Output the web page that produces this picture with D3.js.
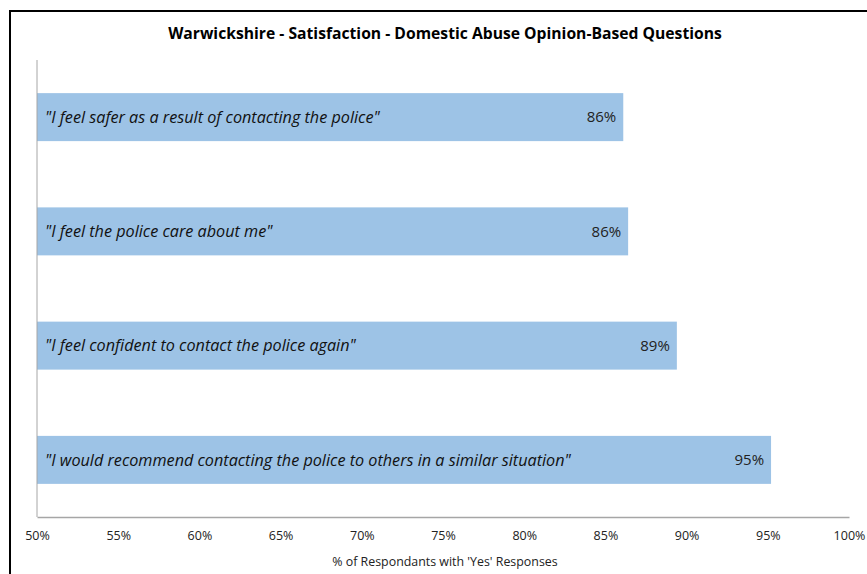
<!DOCTYPE html>
<html>
<head>
<meta charset="utf-8">
<script src="https://cdn.jsdelivr.net/npm/d3@7"></script>
<style>
  body { margin: 0; background: #fff; }
  svg { font-family: "Open Sans", "Liberation Sans", sans-serif; }
</style>
</head>
<body>
<svg width="867" height="574"></svg>
<script>
// data
var questions = [
  "\"I feel safer as a result of contacting the police\"",
  "\"I feel the police care about me\"",
  "\"I feel confident to contact the police again\"",
  "\"I would recommend contacting the police to others in a similar situation\""
];
var values = [86.1, 86.4, 89.4, 95.2];
var valueLabels = ["86%", "86%", "89%", "95%"];
var tickValues = [50, 55, 60, 65, 70, 75, 80, 85, 90, 95, 100];

var svg = d3.select("svg"),
    width = +svg.attr("width"),
    height = +svg.attr("height");

// outer frame
svg.append("rect")
    .attr("x", 10).attr("y", 11)
    .attr("width", width + 10).attr("height", height + 10)
    .attr("fill", "none")
    .attr("stroke", "#000")
    .attr("stroke-width", 2);

svg.append("text")
    .attr("x", 445).attr("y", 39)
    .attr("text-anchor", "middle")
    .attr("font-weight", "bold")
    .attr("font-size", 15.7)
    .attr("fill", "#000")
    .text("Warwickshire - Satisfaction - Domestic Abuse Opinion-Based Questions");

var x = d3.scaleLinear()
    .domain([50, 100])
    .range([37, 849]);

var y = d3.scaleBand()
    .domain(questions)
    .range([60, 517])
    .paddingInner(0.58)
    .paddingOuter(0.29);

var rows = svg.selectAll("g.row")
  .data(questions)
  .enter().append("g")
    .attr("class", "row");

rows.append("rect")
    .attr("x", x(50))
    .attr("y", function(d) { return y(d); })
    .attr("width", function(d, i) { return x(values[i]) - x(50); })
    .attr("height", y.bandwidth())
    .attr("fill", "#9dc3e6");

rows.append("text")
    .attr("x", x(50) + 8)
    .attr("y", function(d) { return y(d) + y.bandwidth() / 2; })
    .attr("dy", "0.35em")
    .attr("font-style", "italic")
    .attr("font-size", 16.2)
    .attr("fill", "#111")
    .text(function(d) { return d; });

rows.append("text")
    .attr("x", function(d, i) { return x(values[i]) - 7; })
    .attr("y", function(d) { return y(d) + y.bandwidth() / 2; })
    .attr("dy", "0.35em")
    .attr("text-anchor", "end")
    .attr("font-size", 15)
    .attr("fill", "#222")
    .text(function(d, i) { return valueLabels[i]; });

// axes
var xAxis = svg.append("g")
    .attr("transform", "translate(0,517)")
    .call(d3.axisBottom(x)
      .tickValues(tickValues)
      .tickSize(0)
      .tickPadding(14)
      .tickFormat(function(d) { return d + "%"; }));
xAxis.select(".domain").attr("stroke", "#a6a6a6").attr("stroke-width", 1.5);
xAxis.selectAll("text")
    .attr("font-size", 12.5)
    .attr("font-family", "\"Open Sans\", sans-serif")
    .attr("fill", "#222");

svg.append("line")
    .attr("x1", x(50)).attr("x2", x(50))
    .attr("y1", 60).attr("y2", 517)
    .attr("stroke", "#a6a6a6")
    .attr("stroke-width", 1);

svg.append("text")
    .attr("x", 445).attr("y", 566)
    .attr("text-anchor", "middle")
    .attr("font-size", 12.4)
    .attr("fill", "#222")
    .text("% of Respondants with 'Yes' Responses");
</script>
</body>
</html>
